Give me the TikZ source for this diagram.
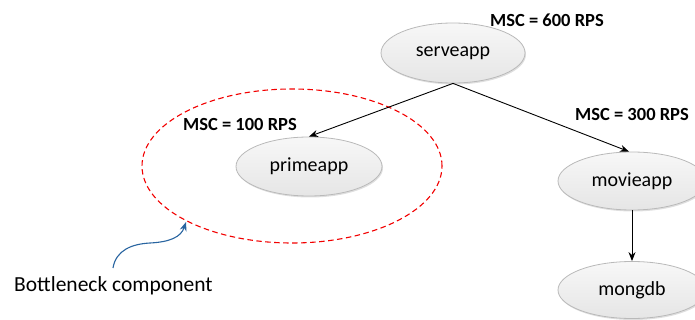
\documentclass[tikz,border=0pt]{standalone}
\usepackage{fontspec}
\setmainfont{Carlito}
\usetikzlibrary{arrows.meta,shapes.geometric,shadows}
\begin{document}
\begin{tikzpicture}[x=1pt,y=-1pt,
  svc/.style={ellipse,draw=gray!55,line width=0.8pt,
    top color=gray!6,bottom color=gray!20,
    drop shadow={shadow xshift=1pt,shadow yshift=-1.5pt,opacity=0.25},
    minimum width=146pt,minimum height=59pt,inner sep=0pt,font=\fontsize{20}{22}\selectfont},
  rate/.style={font=\bfseries\fontsize{18.5}{21}\selectfont,inner sep=0pt},
  link/.style={-{Stealth[length=9pt,width=7pt]},line width=0.9pt,black}]
\useasboundingbox (0,0) rectangle (695,320);
% services
\node[svc,minimum width=144pt,minimum height=60pt] (serve) at (453,53) {serveapp};
\node[svc] (prime) at (309,166.5) {primeapp};
\node[svc,minimum width=148pt,minimum height=58pt] (movie) at (632,181) {movieapp};
\node[svc,minimum width=148pt,minimum height=57pt] (mongo) at (632,290) {mongdb};
% bottleneck boundary
\node[ellipse,draw=red!95!black,line width=1.1pt,dash pattern=on 5.5pt off 3.5pt,
  minimum width=300pt,minimum height=154pt] (zone) at (292,166) {};
% rates
\node[rate] (r600) at (547,20) {MSC = 600 RPS};
\node[rate] (r100) at (240,124) {MSC = 100 RPS};
\node[rate] (r300) at (632,114) {MSC = 300 RPS};
% calls
\draw[link] (serve.south) -- (prime.north);
\draw[link] (serve.south) -- ([xshift=-3pt]movie.north);
\draw[link] (movie.south) -- (mongo.north);
% annotation
\node[font=\fontsize{21.5}{24}\selectfont,anchor=base west,inner sep=0pt] (note) at (14,291) {Bottleneck component};
\coordinate (n1) at (113,268);
\coordinate (n2) at (186,222);
\draw[-{Stealth[length=9pt,width=7pt]},line width=1.1pt,color={rgb,255:red,40;green,100;blue,160}]
  (n1) .. controls (116,250) and (132,244) .. (150,243) .. controls (170,242) and (181,237) .. (n2);
\end{tikzpicture}
\end{document}
